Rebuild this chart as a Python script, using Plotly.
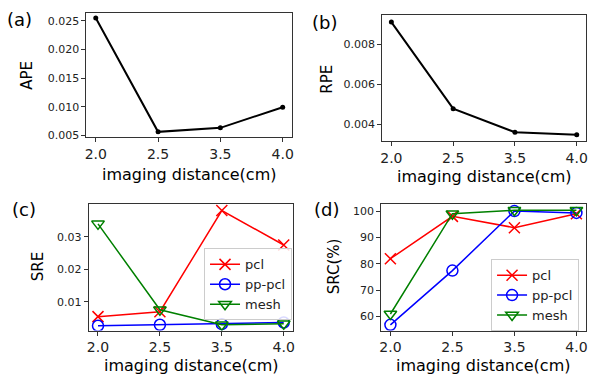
import plotly.graph_objects as go

distances = ["2.0", "2.5", "3.5", "4.0"]
ape = [0.0255, 0.0056, 0.0063, 0.0099]
rpe = [0.00911, 0.00477, 0.00359, 0.00346]
sre_pcl = [0.0055, 0.0070, 0.0381, 0.0275]
sre_pp = [0.0027, 0.0030, 0.0032, 0.0037]
sre_mesh = [0.0340, 0.0076, 0.0030, 0.0033]
src_pcl = [81.9, 98.0, 93.7, 99.0]
src_pp = [56.8, 77.4, 100.0, 99.3]
src_mesh = [60.9, 99.0, 100.3, 100.3]

W, H = 589, 381
FONT = "DejaVu Sans"
TXT = "#222222"

def dx(a, b):
    return [a / W, b / W]

def dy(top, bottom):
    return [1 - bottom / H, 1 - top / H]

fig = go.Figure()

# (a)
fig.add_trace(go.Scatter(x=distances, y=ape, mode="lines+markers",
                         line=dict(color="black", width=2), marker=dict(size=5, color="black"),
                         xaxis="x", yaxis="y", showlegend=False))
# (b)
fig.add_trace(go.Scatter(x=distances, y=rpe, mode="lines+markers",
                         line=dict(color="black", width=2), marker=dict(size=5, color="black"),
                         xaxis="x2", yaxis="y2", showlegend=False))

series = [("pcl", "red", "x-thin-open"), ("pp-pcl", "blue", "circle-open"), ("mesh", "green", "triangle-down-open")]
sre = [sre_pcl, sre_pp, sre_mesh]
src = [src_pcl, src_pp, src_mesh]
for (name, col, sym), vals in zip(series, sre):
    fig.add_trace(go.Scatter(x=distances, y=vals, mode="lines+markers", name=name,
                             line=dict(color=col, width=1.5),
                             marker=dict(symbol=sym, size=11, color=col, line=dict(color=col, width=1.5)),
                             xaxis="x3", yaxis="y3", legend="legend"))
for (name, col, sym), vals in zip(series, src):
    fig.add_trace(go.Scatter(x=distances, y=vals, mode="lines+markers", name=name,
                             line=dict(color=col, width=1.5),
                             marker=dict(symbol=sym, size=11, color=col, line=dict(color=col, width=1.5)),
                             xaxis="x4", yaxis="y4", legend="legend2"))

def xax(domain, anchor):
    return dict(domain=domain, anchor=anchor, type="category", range=[-0.15, 3.15],
                showline=True, mirror=True, linecolor="#333333", linewidth=1,
                ticks="outside", ticklen=4, tickcolor="#333333", showgrid=False, zeroline=False,
                tickfont=dict(family=FONT, size=14, color=TXT))

def yax(domain, anchor, rng, tickvals, fmt):
    return dict(domain=domain, anchor=anchor, range=rng, tickvals=tickvals, tickformat=fmt,
                showline=True, mirror=True, linecolor="#333333", linewidth=1,
                ticks="outside", ticklen=4, tickcolor="#333333", showgrid=False, zeroline=False,
                tickfont=dict(family=FONT, size=11, color=TXT))

a_x, a_y = (85, 292), (13, 139)
b_x, b_y = (382.7, 588), (15.7, 142.7)
c_x, c_y = (87.3, 293), (206.7, 335)
d_x, d_y = (381.7, 587.7), (206.7, 335)

fig.update_layout(
    width=W, height=H, margin=dict(l=0, r=0, t=0, b=0),
    paper_bgcolor="white", plot_bgcolor="white",
    font=dict(family=FONT, color=TXT),
    xaxis=xax(dx(*a_x), "y"),
    yaxis=yax(dy(*a_y), "x", [0.00467, 0.0264], [0.005, 0.010, 0.015, 0.020, 0.025], ".3f"),
    xaxis2=xax(dx(*b_x), "y2"),
    yaxis2=yax(dy(*b_y), "x2", [0.00316, 0.00944], [0.004, 0.006, 0.008], ".3f"),
    xaxis3=xax(dx(*c_x), "y3"),
    yaxis3=yax(dy(*c_y), "x3", [0.00121, 0.0401], [0.01, 0.02, 0.03], ".2f"),
    xaxis4=xax(dx(*d_x), "y4"),
    yaxis4=yax(dy(*d_y), "x4", [54.6, 102.7], [60, 70, 80, 90, 100], "d"),
    legend=dict(x=292 / W, xanchor="right", y=1 - 251.7 / H, yanchor="top",
                bgcolor="rgba(255,255,255,0.85)", bordercolor="#cccccc", borderwidth=1,
                font=dict(family=FONT, size=13, color=TXT), tracegroupgap=0),
    legend2=dict(x=581 / W, xanchor="right", y=1 - 262.7 / H, yanchor="top",
                 bgcolor="rgba(255,255,255,0.85)", bordercolor="#cccccc", borderwidth=1,
                 font=dict(family=FONT, size=13, color=TXT), tracegroupgap=0),
)

ann = []
def text(x, y, s, size, angle=0):
    ann.append(dict(x=x / W, y=1 - y / H, xref="paper", yref="paper", text=s, showarrow=False,
                    textangle=angle, xanchor="center", yanchor="middle",
                    font=dict(family=FONT, size=size, color="black")))

# panel labels
text(18, 20, "(a)", 18)
text(325, 23, "(b)", 18)
text(22, 212, "(c)", 18)
text(327, 212, "(d)", 18)
# x titles
xt = "imaging distance(cm)"
text((a_x[0] + a_x[1]) / 2, 177, xt, 16)
text((b_x[0] + b_x[1]) / 2, 179, xt, 16)
text((c_x[0] + c_x[1]) / 2, 370, xt, 16)
text((d_x[0] + d_x[1]) / 2, 370, xt, 16)
# y titles
text(25, 76, "APE", 15, -90)
text(327, 80, "RPE", 15, -90)
text(37, 270, "SRE", 15, -90)
text(335, 270, "SRC(%)", 15, -90)
fig.update_layout(annotations=ann)

fig.write_html("out.html")
